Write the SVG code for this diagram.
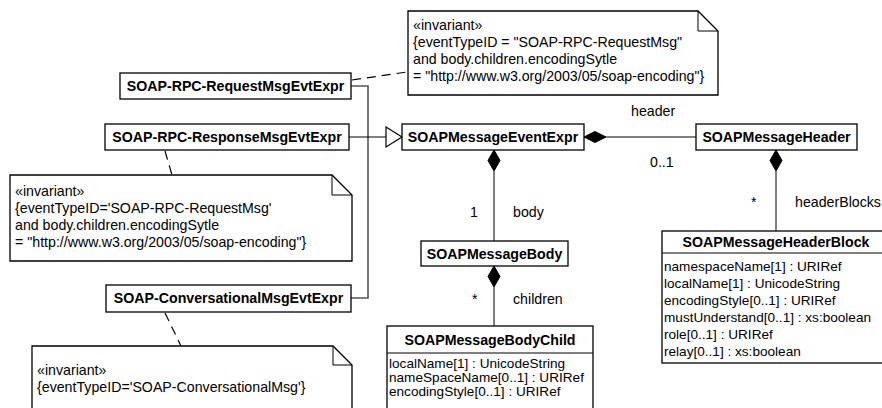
<svg xmlns="http://www.w3.org/2000/svg" width="882" height="408" viewBox="0 0 882 408">
<style>
text{font-family:"Liberation Sans",Arial,sans-serif;font-size:14.2px;fill:#000}
.t{font-weight:bold;text-anchor:middle}
.a{font-size:13.6px}
.box{fill:#fff;stroke:#000;stroke-width:1.3}
.ln{fill:none;stroke:#000;stroke-width:1}
.gl{fill:none;stroke:#555;stroke-width:1.6}
.dash{fill:none;stroke:#000;stroke-width:1.2;stroke-dasharray:9,6}
.dia{fill:#000;stroke:#000;stroke-width:1}
</style>
<rect width="882" height="408" fill="#fff"/>
<g id="connectors">
<line class="dash" x1="352" y1="80" x2="407" y2="72"/>
<line class="dash" x1="165" y1="151" x2="172" y2="175"/>
<line class="dash" x1="165" y1="313" x2="181" y2="346"/>
<polyline class="gl" points="351,86 368,86 368,298 351,298"/>
<line class="ln" x1="349" y1="137" x2="386" y2="137"/>
<polygon points="386,127 402,137 386,147" fill="#fff" stroke="#000" stroke-width="1.2"/>
<line class="ln" x1="606" y1="137" x2="696" y2="137"/>
<polygon class="dia" points="584,137 595,131.5 606,137 595,142.5"/>
<line class="ln" x1="494" y1="171" x2="494" y2="241"/>
<polygon class="dia" points="494,150 500,160.5 494,171 488,160.5"/>
<line class="ln" x1="494" y1="287" x2="494" y2="326"/>
<polygon class="dia" points="494,266 500,276.5 494,287 488,276.5"/>
<line class="ln" x1="776" y1="171" x2="776" y2="231"/>
<polygon class="dia" points="776,150 782,160.5 776,171 770,160.5"/>
<text x="631" y="116">header</text>
<text x="650" y="167">0..1</text>
<text x="470" y="217">1</text>
<text x="513" y="217">body</text>
<text x="472" y="304">*</text>
<text x="513" y="304">children</text>
<text x="751" y="207">*</text>
<text x="795" y="207">headerBlocks</text>
</g>
<g id="note1">
<path class="box" d="M408,11 H698 L718,31 V95 H408 Z"/>
<path class="ln" d="M698,11 V31 H718"/>
<text x="413" y="30">«invariant»</text>
<text x="413" y="47">{eventTypeID = "SOAP-RPC-RequestMsg"</text>
<text x="413" y="64">and body.children.encodingSytle</text>
<text x="413" y="81">= "http://www.w3.org/2003/05/soap-encoding"}</text>
</g>
<g id="note2">
<path class="box" d="M10,175 H332 L352,195 V261 H10 Z"/>
<path class="ln" d="M332,175 V195 H352"/>
<text x="15" y="196">«invariant»</text>
<text x="15" y="213">{eventTypeID='SOAP-RPC-RequestMsg'</text>
<text x="15" y="230">and body.children.encodingSytle</text>
<text x="15" y="247">= "http://www.w3.org/2003/05/soap-encoding"}</text>
</g>
<g id="note3">
<path class="box" d="M32,346 H333 L352,365 V412 H32 Z"/>
<path class="ln" d="M333,346 V365 H352"/>
<text x="37" y="375">«invariant»</text>
<text x="37" y="392">{eventTypeID='SOAP-ConversationalMsg'}</text>
</g>
<g id="reqExpr">
<rect class="box" x="120" y="73" width="231" height="26"/>
<text class="t" x="235.5" y="91">SOAP-RPC-RequestMsgEvtExpr</text>
</g>
<g id="respExpr">
<rect class="box" x="105" y="124" width="244" height="26"/>
<text class="t" x="227" y="142">SOAP-RPC-ResponseMsgEvtExpr</text>
</g>
<g id="convExpr">
<rect class="box" x="106" y="285" width="245" height="27"/>
<text class="t" x="228.5" y="303">SOAP-ConversationalMsgEvtExpr</text>
</g>
<g id="eventExpr">
<rect class="box" x="402" y="124" width="182" height="26"/>
<text class="t" x="493" y="142">SOAPMessageEventExpr</text>
</g>
<g id="header">
<rect class="box" x="696" y="124" width="161" height="26"/>
<text class="t" x="776.5" y="142">SOAPMessageHeader</text>
</g>
<g id="body">
<rect class="box" x="421" y="241" width="147" height="25"/>
<text class="t" x="494.5" y="258.5">SOAPMessageBody</text>
</g>
<g id="bodyChild">
<rect class="box" x="387" y="326" width="206" height="90"/>
<line class="ln" x1="387" y1="353" x2="593" y2="353"/>
<text class="t" x="490" y="345">SOAPMessageBodyChild</text>
<text class="a" x="389" y="368">localName[1] : UnicodeString</text>
<text class="a" x="389" y="382">nameSpaceName[0..1] : URIRef</text>
<text class="a" x="389" y="396">encodingStyle[0..1] : URIRef</text>
</g>
<g id="headerBlock">
<rect class="box" x="662" y="231" width="228" height="132"/>
<line class="ln" x1="662" y1="253" x2="890" y2="253"/>
<text class="t" x="776" y="247">SOAPMessageHeaderBlock</text>
<text class="a" x="664" y="271">namespaceName[1] : URIRef</text>
<text class="a" x="664" y="288">localName[1] : UnicodeString</text>
<text class="a" x="664" y="305">encodingStyle[0..1] : URIRef</text>
<text class="a" x="664" y="322">mustUnderstand[0..1] : xs:boolean</text>
<text class="a" x="664" y="339">role[0..1] : URIRef</text>
<text class="a" x="664" y="356">relay[0..1] : xs:boolean</text>
</g>
</svg>
